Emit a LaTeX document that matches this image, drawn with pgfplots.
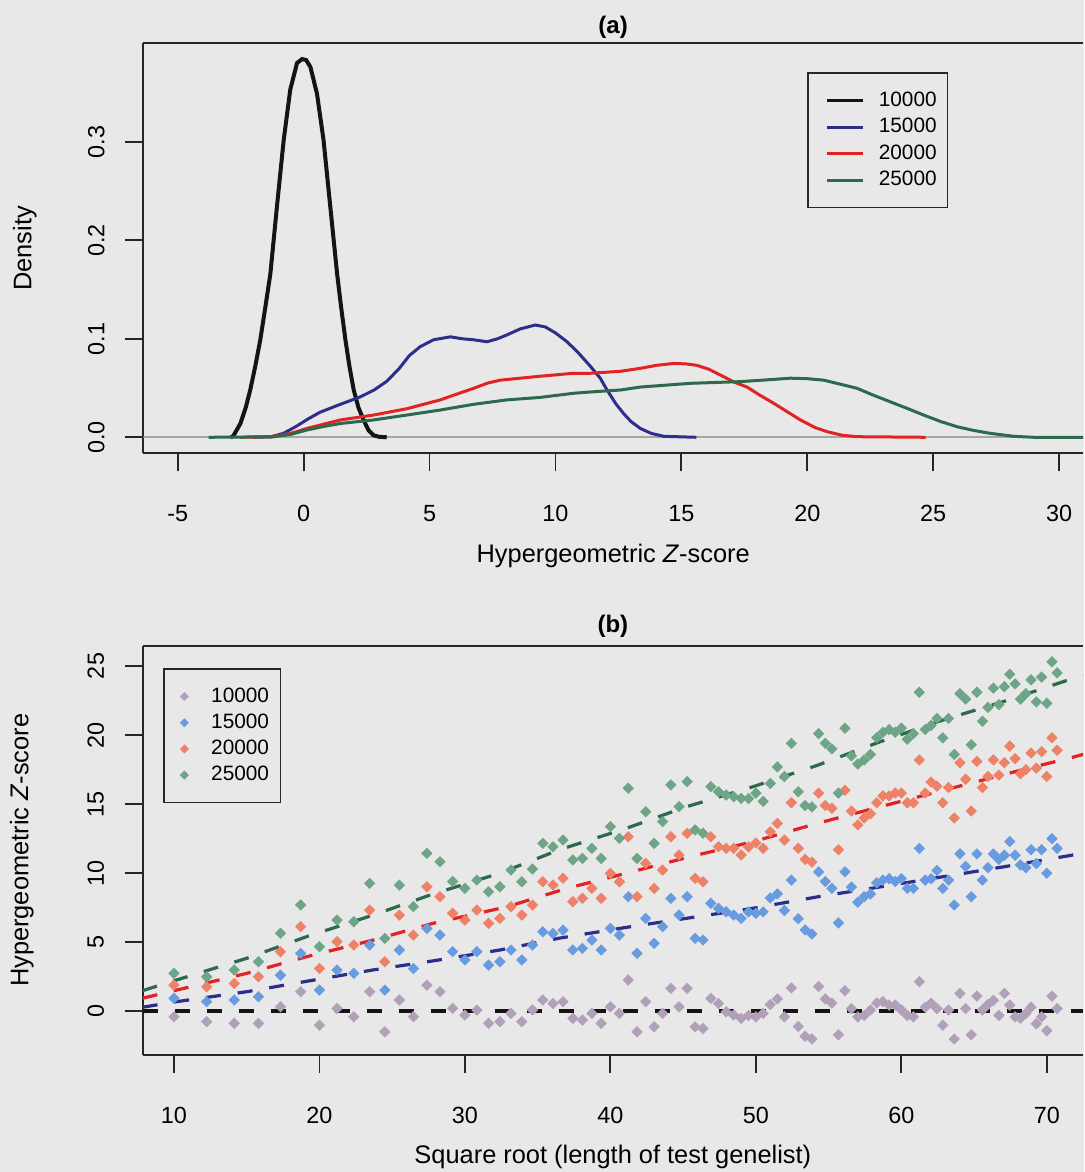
\documentclass[border=0pt]{standalone}
\usepackage{fontspec}
\setmainfont{Liberation Sans}
\usepackage{pgfplots}
\usepackage{pgfplotstable}
\pgfplotsset{compat=1.18}

\definecolor{bg}{RGB}{232,232,232}
\definecolor{cblack}{RGB}{20,20,20}
\definecolor{cblue}{RGB}{45,45,140}
\definecolor{cred}{RGB}{225,35,35}
\definecolor{cgreen}{RGB}{45,105,75}
\definecolor{pgray}{RGB}{178,160,185}
\definecolor{pblue}{RGB}{105,155,225}
\definecolor{pred}{RGB}{238,130,105}
\definecolor{pgreen}{RGB}{110,165,135}

\pgfplotstableread{
x g b r gr
10.000 -0.39 0.94 1.90 2.75
12.247 -0.75 0.70 1.78 2.50
14.142 -0.87 0.82 2.02 2.99
15.811 -0.87 1.06 2.50 3.59
17.321 0.33 2.62 4.32 5.65
18.708 1.42 4.20 6.13 7.70
20.000 -1.00 1.54 3.10 4.68
21.213 0.21 2.99 5.04 6.61
22.361 -0.39 2.75 4.80 6.49
23.452 1.42 4.80 7.33 9.26
24.495 -1.48 1.54 3.59 5.28
25.495 0.82 4.44 6.97 9.14
26.458 -0.39 3.10 5.52 7.58
27.386 1.90 6.00 9.02 11.44
28.284 1.42 5.52 8.30 10.83
29.155 0.21 4.32 7.10 9.40
30.000 -0.27 3.72 6.61 8.90
30.822 0.09 4.32 7.33 9.50
31.623 -0.87 3.35 6.37 8.66
32.404 -0.75 3.59 6.73 9.02
33.166 -0.15 4.44 7.58 10.23
33.912 -0.75 3.72 6.97 9.38
34.641 0.10 4.80 7.70 10.30
35.355 0.82 5.76 9.38 12.16
36.056 0.57 5.64 9.14 11.92
36.742 0.70 5.88 9.63 12.40
37.417 -0.51 4.44 7.94 10.96
38.079 -0.63 4.56 8.18 11.07
38.730 -0.15 5.16 8.90 11.80
39.370 -0.87 4.44 8.18 11.07
40.000 0.33 6.00 9.99 13.37
40.620 -0.15 5.52 9.38 12.52
41.231 2.27 8.30 12.64 16.15
41.833 -1.48 4.20 8.30 11.07
42.426 0.70 6.73 10.71 14.45
43.012 -1.12 4.92 8.90 12.16
43.589 -0.15 6.13 10.23 13.73
44.159 1.66 8.18 12.64 16.39
44.721 0.33 6.97 11.32 14.82
45.277 1.66 8.30 12.89 16.63
45.826 -1.12 5.28 9.63 13.13
46.368 -1.24 5.16 9.38 12.89
46.904 0.94 7.82 12.64 16.27
47.434 0.57 7.45 11.92 15.90
47.958 -0.03 7.21 11.80 15.66
48.477 -0.27 6.97 11.80 15.54
48.990 -0.51 6.73 11.32 15.42
49.497 -0.30 7.20 11.90 15.40
50.000 -0.40 7.10 12.20 15.80
50.498 -0.15 7.20 11.80 15.20
50.990 0.50 8.20 13.00 16.50
51.478 0.90 8.50 13.60 17.70
51.962 -0.40 7.30 12.40 17.00
52.440 1.70 9.50 15.10 19.40
52.915 -1.10 6.70 11.80 15.90
53.385 -1.80 5.90 11.00 14.90
53.852 -2.00 5.60 10.80 14.80
54.314 1.80 10.10 15.80 20.10
54.772 0.90 9.40 14.90 19.40
55.227 0.60 8.90 14.70 19.00
55.678 -1.70 6.40 11.70 15.80
56.125 1.50 10.10 16.00 20.50
56.569 0.20 9.00 14.50 18.50
57.009 -0.40 7.90 13.50 17.90
57.446 -0.30 8.30 14.00 18.20
57.879 0.10 8.50 14.30 18.60
58.310 0.60 9.30 15.10 19.80
58.737 0.70 9.50 15.60 20.20
59.161 0.45 9.60 15.60 20.40
59.582 0.45 9.40 15.80 20.20
60.000 0.10 9.60 15.80 20.50
60.415 -0.30 8.90 15.10 19.70
60.828 -0.40 8.90 15.10 20.10
61.237 2.15 11.80 18.20 23.10
61.644 0.30 9.50 15.80 20.40
62.048 0.60 9.60 16.60 20.70
62.450 0.20 10.20 16.30 21.20
62.849 -1.00 8.90 15.10 19.80
63.246 0.10 9.50 16.20 21.20
63.640 -2.00 7.70 14.00 18.60
64.031 1.30 11.40 18.00 23.00
64.420 0.20 10.50 16.80 22.60
64.807 -1.70 8.30 14.50 19.30
65.192 1.10 11.40 18.10 23.10
65.574 0.10 9.50 16.20 21.00
65.955 0.50 10.40 17.00 22.00
66.332 0.80 11.40 18.20 23.40
66.708 -0.30 11.00 17.10 22.20
67.082 1.30 11.30 18.00 23.50
67.454 0.45 12.30 19.20 24.40
67.823 -0.40 11.30 18.30 23.70
68.191 -0.50 10.60 17.20 22.60
68.557 -0.15 10.40 17.50 23.00
68.920 0.30 11.70 18.70 24.00
69.282 -0.90 10.70 17.60 22.40
69.642 -0.40 11.70 18.80 24.20
70.000 -1.40 10.00 17.00 22.30
70.356 1.10 12.50 19.80 25.30
70.711 0.20 11.80 18.90 24.50
}\scatterdata

\pgfplotsset{
  rstyle/.style={
    scale only axis,
    axis x line*=box, axis y line*=left,
    axis line style={line width=0.9pt, black!85, -},
    tick align=outside,
    xtick pos=left, ytick pos=left,
    major tick length=9pt,
    tick style={line width=0.9pt, black!85},
    /pgf/number format/assume math mode=true,
    tick label style={font=\fontsize{11.7}{14}\selectfont},
    label style={font=\fontsize{12.7}{15}\selectfont},
    xticklabel style={anchor=center, yshift=-21pt},
    yticklabel style={anchor=center, xshift=-14.5pt, rotate=90},
    legend cell align=left,
  }
}

\begin{document}
\begin{tikzpicture}
\path[use as bounding box, fill=bg] (0,0) rectangle (542pt,586pt);

% ---------------- panel (a)
\begin{axis}[rstyle,
  at={(71.65pt,359.35pt)}, anchor=south west,
  width=469.85pt, height=205pt,
  xmin=-6.366, xmax=30.95, ymin=-0.01624, ymax=0.4,
  xtick={-5,0,5,10,15,20,25,30}, xticklabels={-5,0,5,10,15,20,25,30},
  ytick={0,0.1,0.2,0.3}, yticklabels={0.0,0.1,0.2,0.3},
  xlabel={Hypergeometric \textit{Z}-score}, ylabel={Density},
  xlabel style={at={(0.5,-0.2512)}, anchor=center},
  ylabel style={at={(-0.126,0.5)}, anchor=center},
  title={(a)},
  title style={at={(0.5,1.0098)}, anchor=center, font=\bfseries\fontsize{12}{14}\selectfont},
  legend style={at={(0.7063,0.929)}, anchor=north west, draw=black!85, line width=0.8pt,
    fill=none, font=\fontsize{10.4}{12}\selectfont, inner xsep=5.5pt, inner ysep=9.3pt,
    row sep=4.5pt, column sep=7pt, nodes={inner sep=0pt}},
  legend image code/.code={\path (0pt,0pt) (21pt,0pt); \draw[#1, line width=1.5pt] (3pt,0pt) -- (21pt,0pt);},
]
\addplot[gray!70, line width=0.8pt, forget plot] coordinates {(-7,0) (32,0)};
\addplot[cblack, line width=2pt] coordinates {
(-2.9,0) (-2.8,0.001) (-2.51,0.014) (-2.3,0.03) (-2.12,0.048) (-1.92,0.072) (-1.72,0.099)
(-1.52,0.132) (-1.32,0.166) (-1.06,0.234) (-0.79,0.302) (-0.53,0.353) (-0.26,0.38) (-0.06,0.384)
(0.1,0.383) (0.27,0.376) (0.53,0.349) (0.79,0.302) (1.06,0.234) (1.33,0.166) (1.5,0.13)
(1.66,0.099) (1.82,0.072) (1.99,0.048) (2.18,0.03) (2.38,0.0176) (2.58,0.007) (2.78,0.002)
(3.0,0.0005) (3.3,0)};
\addlegendentry{10000}
\addplot[cblue, line width=1.5pt] coordinates {
(-2.0,0) (-1.3,0.0005) (-0.8,0.004) (-0.3,0.011) (0.2,0.019) (0.66,0.0255) (1.46,0.0335)
(2.25,0.041) (2.8,0.048) (3.31,0.057) (3.8,0.07) (4.2,0.083) (4.63,0.092) (5.16,0.099)
(5.83,0.102) (6.3,0.1) (6.75,0.099) (7.28,0.097) (7.7,0.1) (8.08,0.104) (8.6,0.11)
(9.2,0.114) (9.6,0.112) (10.0,0.106) (10.46,0.097) (10.9,0.086) (11.39,0.072) (11.78,0.06)
(12.05,0.048) (12.4,0.034) (12.71,0.024) (13.0,0.016) (13.37,0.009) (13.8,0.004) (14.3,0.001) (15.6,0)};
\addlegendentry{15000}
\addplot[cred, line width=1.5pt] coordinates {
(-2.5,0) (-1.3,0.0005) (-0.5,0.004) (0.13,0.009) (1.46,0.0176) (2.78,0.0226) (4.1,0.029)
(5.43,0.038) (6.1,0.044) (6.75,0.0497) (7.3,0.055) (7.81,0.058) (8.6,0.06) (9.4,0.062)
(10.72,0.065) (11.39,0.065) (12.58,0.067) (13.37,0.07) (14.0,0.073) (14.7,0.075) (15.2,0.0745)
(15.62,0.073) (16.1,0.069) (16.68,0.0615) (17.1,0.056) (17.61,0.051) (18.1,0.043) (18.67,0.0345)
(19.2,0.026) (19.73,0.0176) (20.3,0.01) (20.79,0.0057) (21.4,0.002) (21.98,0.0006) (24.7,0)};
\addlegendentry{20000}
\addplot[cgreen, line width=1.5pt] coordinates {
(-3.77,0) (-1.2,0.0005) (-0.5,0.003) (0.13,0.0074) (0.8,0.011) (1.46,0.014) (2.78,0.0176)
(4.1,0.0226) (5.43,0.0277) (6.75,0.0335) (8.08,0.038) (9.4,0.0405) (10.72,0.0447) (11.39,0.046)
(12.58,0.048) (13.37,0.051) (15.36,0.0548) (17.34,0.0565) (18.5,0.0585) (19.33,0.06) (20.0,0.0595)
(20.65,0.058) (21.3,0.054) (21.98,0.0497) (22.6,0.043) (23.3,0.036) (24.0,0.029) (24.62,0.0226)
(25.3,0.016) (25.95,0.0107) (26.6,0.007) (27.27,0.004) (28.2,0.001) (29.0,0) (31.5,0)};
\addlegendentry{25000}
\end{axis}

% ---------------- panel (b)
\begin{axis}[rstyle,
  at={(71.35pt,58.5pt)}, anchor=south west,
  width=470.15pt, height=204.65pt,
  xmin=7.85, xmax=72.49, ymin=-3.16, ymax=26.47,
  xtick={10,20,30,40,50,60,70}, xticklabels={10,20,30,40,50,60,70},
  ytick={0,5,10,15,20,25}, yticklabels={0,5,10,15,20,25},
  xlabel={Square root (length of test genelist)}, ylabel={Hypergeometric \textit{Z}-score},
  xlabel style={at={(0.5,-0.249)}, anchor=center},
  ylabel style={at={(-0.1287,0.5)}, anchor=center},
  title={(b)},
  title style={at={(0.5,1.0171)}, anchor=center, font=\bfseries\fontsize{12}{14}\selectfont},
  legend style={at={(0.0219,0.9448)}, anchor=north west, draw=black!85, line width=0.8pt,
    fill=none, font=\fontsize{10.4}{12}\selectfont, inner xsep=5.75pt, inner ysep=9.3pt,
    row sep=4.35pt, column sep=9pt, nodes={inner sep=0pt}},
  legend image code/.code={\path (0pt,0pt) (8pt,0pt); \draw[#1, mark size=1.2pt] plot coordinates {(4pt,0pt)};},
  every axis plot/.append style={mark size=1.8pt},
]
\addplot[only marks, mark=square*, mark options={rotate=45, draw=pgray, fill=pgray}] table[x=x,y=g]{\scatterdata};
\addlegendentry{10000}
\addplot[only marks, mark=square*, mark options={rotate=45, draw=pblue, fill=pblue}] table[x=x,y=b]{\scatterdata};
\addlegendentry{15000}
\addplot[only marks, mark=square*, mark options={rotate=45, draw=pred, fill=pred}] table[x=x,y=r]{\scatterdata};
\addlegendentry{20000}
\addplot[only marks, mark=square*, mark options={rotate=45, draw=pgreen, fill=pgreen}] table[x=x,y=gr]{\scatterdata};
\addlegendentry{25000}

\addplot[cblack, line width=2pt, dash pattern=on 7.5pt off 8.5pt, forget plot] coordinates {(7.85,0) (72.5,0)};
\addplot[cblue, line width=1.6pt, dash pattern=on 7.5pt off 8.5pt, forget plot] coordinates {
(7.85,0.3) (10.18,0.7) (15,1.42) (19.25,2.2) (23.7,3.0) (28.1,3.7) (32.4,4.44) (36.5,5.3)
(41.1,6.08) (45.2,6.73) (49.8,7.46) (54.3,8.3) (58.5,9.0) (62.9,9.75) (67.25,10.5) (71.7,11.3) (72.5,11.45)};
\addplot[cred, line width=1.6pt, dash pattern=on 7.5pt off 8.5pt, forget plot] coordinates {
(7.85,0.95) (10.18,1.54) (15,2.75) (19.1,3.95) (23.7,5.16) (27.8,6.37) (32.9,7.57) (37.0,8.9)
(41.1,10.0) (45.5,11.2) (49.8,12.28) (54.2,13.6) (58.5,14.8) (62.9,16.0) (67.25,17.2) (71.8,18.4) (72.5,18.6)};
\addplot[cgreen, line width=1.6pt, dash pattern=on 7.5pt off 8.5pt, forget plot] coordinates {
(7.85,1.5) (10.18,2.27) (15,3.84) (19.1,5.4) (23.7,6.97) (27.8,8.49) (32.4,10.0) (36.5,11.7)
(41.1,13.25) (45.2,14.8) (49.8,16.26) (54.2,17.8) (58.5,19.5) (62.9,21.1) (67.25,22.5) (71.8,24.1) (72.5,24.3)};
\end{axis}
\end{tikzpicture}
\end{document}
